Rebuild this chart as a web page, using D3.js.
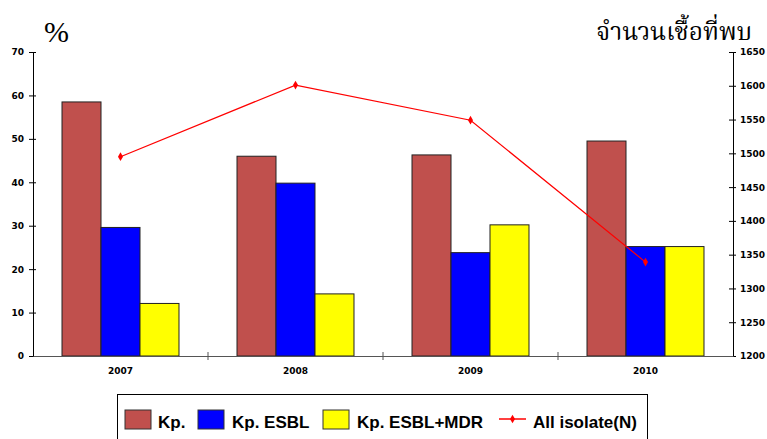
<!DOCTYPE html>
<html><head><meta charset="utf-8">
<script src="https://cdn.jsdelivr.net/npm/d3@7"></script>
<style>body{margin:0;background:#fff}svg{display:block}</style>
</head><body>
<svg id="c" width="767" height="439"></svg>
<script>
const categories = ["2007","2008","2009","2010"];
const seriesNames = ["Kp.","Kp. ESBL","Kp. ESBL+MDR"];
const kp = [58.5, 46.0, 46.3, 49.5];
const kpEsbl = [29.6, 39.8, 23.8, 25.2];
const kpEsblMdr = [12.1, 14.3, 30.2, 25.2];
const allIsolate = [1495, 1601, 1549, 1339];
const leftTicks = [0,10,20,30,40,50,60,70];
const rightTicks = [1200,1250,1300,1350,1400,1450,1500,1550,1600,1650];
const colors = ["#C0504D","#0000FF","#FFFF00"];
const lineColor = "#FF0000";

const svg = d3.select("#c");
const L = 33, R = 733, T = 52, B = 356;
const x = d3.scaleBand().domain(categories).range([L, R]).paddingInner(0).paddingOuter(0);
const xs = d3.scaleBand().domain(seriesNames).range([0, x.bandwidth()]).paddingInner(0).paddingOuter(0.744);
const yL = d3.scaleLinear().domain([0,70]).range([B, T]);
const yR = d3.scaleLinear().domain([1200,1650]).range([B, T]);

const tickFont = "DejaVu Sans, Verdana, sans-serif";

// bars
const seriesVals = [kp, kpEsbl, kpEsblMdr];
seriesNames.forEach((s, si) => {
  svg.append("g").selectAll("rect").data(categories).join("rect")
    .attr("x", d => x(d) + xs(s))
    .attr("y", (d,i) => yL(seriesVals[si][i]))
    .attr("width", xs.bandwidth())
    .attr("height", (d,i) => B - yL(seriesVals[si][i]))
    .attr("fill", colors[si])
    .attr("stroke", "#222").attr("stroke-width", 1);
});

// left axis
const gl = svg.append("g").attr("transform", `translate(${L},0)`)
  .call(d3.axisLeft(yL).tickValues(leftTicks).tickSize(0).tickPadding(9));
gl.select(".domain").attr("stroke", "#000");
gl.selectAll(".tick").append("line").attr("x1",-4).attr("x2",3).attr("stroke","#000");
gl.selectAll("text").attr("font-family", tickFont).attr("font-weight","bold").attr("font-size", 9).attr("fill","#000");

// right axis
const gr = svg.append("g").attr("transform", `translate(${R},0)`)
  .call(d3.axisRight(yR).tickValues(rightTicks).tickFormat(d3.format("d")).tickSize(0).tickPadding(7));
gr.select(".domain").attr("stroke", "#000");
gr.selectAll(".tick").append("line").attr("x1",-4).attr("x2",3).attr("stroke","#000");
gr.selectAll("text").attr("font-family", tickFont).attr("font-weight","bold").attr("font-size", 9).attr("fill","#000");

// x axis
const gx = svg.append("g").attr("transform", `translate(0,${B})`)
  .call(d3.axisBottom(x).tickSize(0).tickPadding(12));
gx.select(".domain").attr("stroke", "#555");
gx.selectAll("text").attr("font-family", tickFont).attr("font-weight","bold").attr("font-size", 9).attr("fill","#000");
svg.append("g").selectAll("line").data(categories.slice(1)).join("line")
  .attr("x1", d => x(d)).attr("x2", d => x(d))
  .attr("y1", B-4).attr("y2", B+4).attr("stroke","#555");

// line
const line = d3.line().x((d,i) => x(categories[i]) + x.bandwidth()/2).y(d => yR(d));
svg.append("path").datum(allIsolate).attr("d", line)
  .attr("fill","none").attr("stroke", lineColor).attr("stroke-width", 1.2);
const diamond = d3.symbol().type(d3.symbolDiamond).size(22);
svg.append("g").selectAll("path").data(allIsolate).join("path")
  .attr("d", diamond)
  .attr("transform", (d,i) => `translate(${x(categories[i]) + x.bandwidth()/2},${yR(d)})`)
  .attr("fill", lineColor);

// titles
svg.append("text").attr("x", 44).attr("y", 42).text("%")
  .attr("font-family","Liberation Serif, serif").attr("font-size", 30).attr("fill","#000");
svg.append("text").attr("x", 752).attr("y", 40).attr("text-anchor","end").text("จำนวนเชื้อที่พบ")
  .attr("font-family","Liberation Serif, Noto Serif Thai, Noto Sans Thai, serif").attr("font-size", 24.5).attr("fill","#000");

// legend
svg.append("rect").attr("x", 117.5).attr("y", 394.5).attr("width", 530).attr("height", 60)
  .attr("fill","#fff").attr("stroke","#000").attr("stroke-width",1);
const legFont = "Liberation Sans, Arial, sans-serif";
const legItems = [
  {name: seriesNames[0], color: colors[0], sx: 125, tx: 158},
  {name: seriesNames[1], color: colors[1], sx: 198, tx: 232},
  {name: seriesNames[2], color: colors[2], sx: 323, tx: 357}
];
legItems.forEach(it => {
  svg.append("rect").attr("x", it.sx).attr("y", 410).attr("width", 26).attr("height", 19)
    .attr("fill", it.color).attr("stroke","#333").attr("stroke-width",1);
  svg.append("text").attr("x", it.tx).attr("y", 427.5).text(it.name)
    .attr("font-family", legFont).attr("font-weight","bold").attr("font-size", 17).attr("fill","#000");
});
svg.append("line").attr("x1", 499).attr("x2", 526).attr("y1", 419).attr("y2", 419)
  .attr("stroke", lineColor).attr("stroke-width", 1.5);
svg.append("path").attr("d", diamond).attr("transform","translate(512.5,419)").attr("fill", lineColor);
svg.append("text").attr("x", 533).attr("y", 427.5).text("All isolate(N)")
  .attr("font-family", legFont).attr("font-weight","bold").attr("font-size", 17).attr("fill","#000");
</script>
</body></html>
